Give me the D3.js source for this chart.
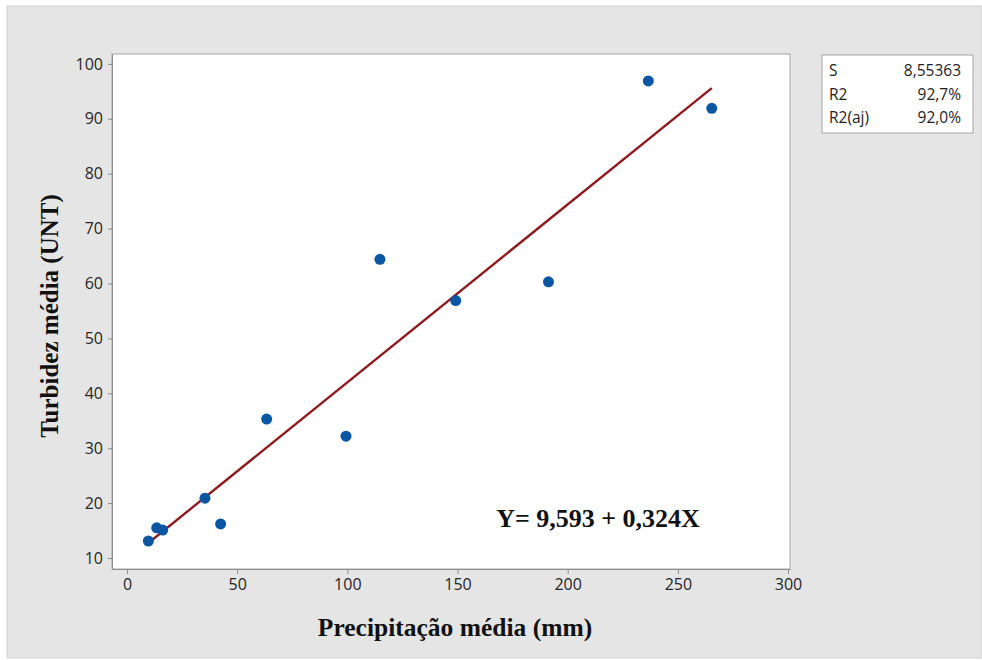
<!DOCTYPE html>
<html>
<head>
<meta charset="utf-8">
<script src="https://cdn.jsdelivr.net/npm/d3@7"></script>
<style>
  body { margin: 0; background: #fff; }
  .axis path, .axis line { stroke: #8c8c8c; }
  .axis text { font-family: "Open Sans", sans-serif; font-size: 16px; fill: #262626; }
  .title { font-family: "Liberation Serif", "Times New Roman", serif; font-weight: bold; fill: #111; }
  .stat { font-family: "Open Sans", sans-serif; font-size: 15.5px; fill: #1e1e1e; }
</style>
</head>
<body>
<svg id="chart" width="982" height="660"></svg>
<script>
// data
var precipitacao = [9.7, 13.5, 16.2, 35.4, 42.5, 63.4, 99.4, 114.8, 149.2, 191.3, 236.6, 265.4];
var turbidez     = [13.1, 15.5, 15.1, 20.9, 16.2, 35.3, 32.2, 64.4, 56.9, 60.3, 96.9, 91.9];
var xTicks = [0, 50, 100, 150, 200, 250, 300];
var yTicks = [10, 20, 30, 40, 50, 60, 70, 80, 90, 100];
var intercept = 9.593, slope = 0.324;
var statLabels = ["S", "R2", "R2(aj)"];
var statValues = ["8,55363", "92,7%", "92,0%"];

var svg = d3.select("#chart");
var plot = { left: 112, top: 54, right: 790, bottom: 569 };

// grey panel
svg.append("rect")
    .attr("x", 7).attr("y", 6)
    .attr("width", 975).attr("height", 652)
    .attr("fill", "#e5e5e5")
    .attr("stroke", "#d2d2d2");

// plot area
svg.append("rect")
    .attr("x", plot.left).attr("y", plot.top)
    .attr("width", plot.right - plot.left)
    .attr("height", plot.bottom - plot.top)
    .attr("fill", "#fff")
    .attr("stroke", "#a6a6a6");

var x = d3.scaleLinear().domain([-6.8, 300.9]).range([plot.left, plot.right]),
    y = d3.scaleLinear().domain([8.0, 101.8]).range([plot.bottom, plot.top]);

svg.append("g")
    .attr("class", "axis")
    .attr("transform", "translate(0," + plot.bottom + ")")
    .call(d3.axisBottom(x).tickValues(xTicks).tickSize(5).tickPadding(5).tickSizeOuter(0));

svg.append("g")
    .attr("class", "axis")
    .attr("transform", "translate(" + plot.left + ",0)")
    .call(d3.axisLeft(y).tickValues(yTicks).tickSize(4).tickPadding(5).tickSizeOuter(0));

// regression line over the data range
var xr = d3.extent(precipitacao);
svg.append("path")
    .datum(xr.map(v => [v, intercept + slope * v]))
    .attr("fill", "none")
    .attr("stroke", "#8e1b1f")
    .attr("stroke-width", 2.4)
    .attr("d", d3.line().x(d => x(d[0])).y(d => y(d[1])));

// points
svg.selectAll(".pt")
    .data(precipitacao)
    .enter()
    .append("circle")
    .attr("class", "pt")
    .attr("cx", d => x(d))
    .attr("cy", (d, i) => y(turbidez[i]))
    .attr("r", 5.5)
    .attr("fill", "#0a56a3");

// equation
svg.append("text")
    .attr("class", "title")
    .attr("x", 598).attr("y", 527)
    .attr("text-anchor", "middle")
    .style("font-size", "26px")
    .text("Y= 9,593 + 0,324X");

// axis titles
svg.append("text")
    .attr("class", "title")
    .attr("x", 455).attr("y", 636)
    .attr("text-anchor", "middle")
    .style("font-size", "25.5px")
    .text("Precipitação média (mm)");

svg.append("text")
    .attr("class", "title")
    .attr("transform", "translate(58,316) rotate(-90)")
    .attr("text-anchor", "middle")
    .style("font-size", "25px")
    .text("Turbidez média (UNT)");

// stats box
svg.append("rect")
    .attr("x", 822).attr("y", 55)
    .attr("width", 151).attr("height", 78)
    .attr("fill", "#fff")
    .attr("stroke", "#a6a6a6");

var rowY = [71, 95, 118];
statLabels.forEach((s, i) => {
    svg.append("text").attr("class", "stat")
        .attr("x", 829).attr("y", rowY[i]).attr("dy", "0.35em")
        .text(s);
    svg.append("text").attr("class", "stat")
        .attr("x", 961).attr("y", rowY[i]).attr("dy", "0.35em")
        .attr("text-anchor", "end")
        .text(statValues[i]);
});
</script>
</body>
</html>
